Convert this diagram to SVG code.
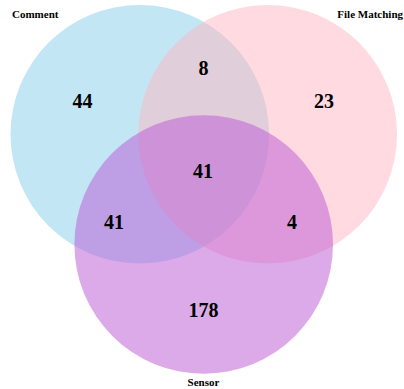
<svg xmlns="http://www.w3.org/2000/svg" width="404" height="389" viewBox="0 0 404 389">
<style>
.set{stroke:none;opacity:0.5}
.lbl{font-family:"Liberation Serif","Times New Roman",serif;font-weight:bold;font-size:11px;fill:#000}
.num{font-family:"Liberation Serif","Times New Roman",serif;font-weight:bold;font-size:20px;fill:#000;text-anchor:middle}
</style>
<rect width="404" height="389" fill="#ffffff"/>
<g id="sets">
<g id="comment"><circle class="set" cx="139.8" cy="134.3" r="129.3" fill="#87CEEB"/></g>
<g id="file-matching"><circle class="set" cx="267.7" cy="134.3" r="129.3" fill="#FFB6C1"/></g>
<g id="sensor"><circle class="set" cx="203.7" cy="244.5" r="129.3" fill="#BA55D3"/></g>
</g>
<g id="set-labels">
<text class="lbl" x="12" y="18">Comment</text>
<text class="lbl" x="403" y="18" text-anchor="end">File Matching</text>
<text class="lbl" x="203.5" y="386" text-anchor="middle">Sensor</text>
</g>
<g id="counts">
<text class="num" x="82.5" y="108">44</text>
<text class="num" x="203.5" y="75">8</text>
<text class="num" x="324" y="108">23</text>
<text class="num" x="203" y="178">41</text>
<text class="num" x="114" y="229">41</text>
<text class="num" x="292" y="229">4</text>
<text class="num" x="203.5" y="317">178</text>
</g>
</svg>
